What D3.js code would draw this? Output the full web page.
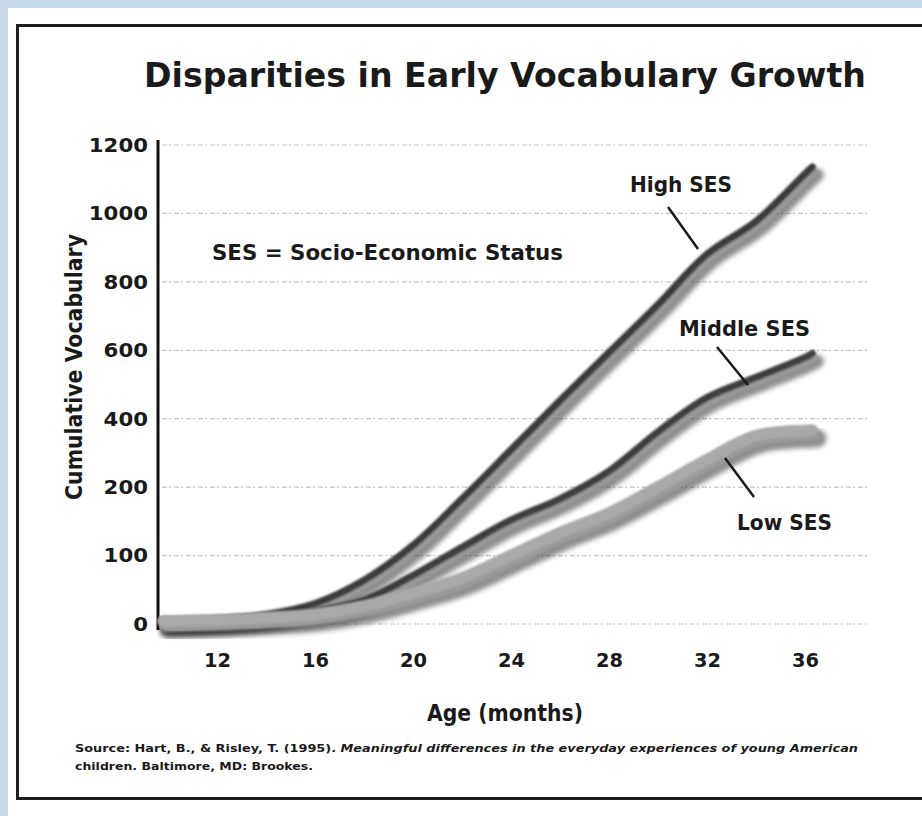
<!DOCTYPE html>
<html><head><meta charset="utf-8">
<script src="https://cdn.jsdelivr.net/npm/d3@7"></script>
<style>html,body{margin:0;padding:0;background:#c6d9ea;overflow:hidden} svg{display:block}</style>
</head><body><svg id="c" width="922" height="816"></svg>
<script>
// ---- data ----
const months    = [9.8, 12, 14, 16, 18, 20, 22, 24, 26, 28, 30, 32, 34, 36, 36.3];
const highSES   = [5, 7, 14, 30, 64, 115, 183, 309, 453, 594, 734, 881, 977, 1116, 1136];
const middleSES = [4, 6, 10, 19, 35, 71, 112, 152, 183, 247, 362, 462, 521, 579, 591];
const lowSES    = [4, 6, 9, 14, 26, 45, 67, 100, 133, 162, 200, 280, 350, 365, 366];
const yTicks = [0, 100, 200, 400, 600, 800, 1000, 1200];
const xTicks = [12, 16, 20, 24, 28, 32, 36];
const seriesNames = ["High SES", "Middle SES", "Low SES"];

const svg = d3.select("#c");
const FONT = "'DejaVu Sans', sans-serif";

// background panel and frame
svg.append("rect").attr("x", 8).attr("y", 8).attr("width", 914).attr("height", 808).attr("fill", "#fff");
svg.append("rect").attr("x", 17.5).attr("y", 25.5).attr("width", 930).attr("height", 773)
  .attr("fill", "none").attr("stroke", "#1e1e1e").attr("stroke-width", 3);

const defs = svg.append("defs");
defs.append("filter").attr("id", "blur").attr("x", "-5%").attr("y", "-5%").attr("width", "110%").attr("height", "110%")
  .append("feGaussianBlur").attr("stdDeviation", 2.4);
defs.append("filter").attr("id", "blur2").attr("x", "-5%").attr("y", "-5%").attr("width", "110%").attr("height", "110%")
  .append("feGaussianBlur").attr("stdDeviation", 0.8);

// scales (y axis has equally spaced ticks with uneven values, as in the original)
const yBottom = 624, yStep = 68.43;
const y = d3.scaleLinear().domain(yTicks).range(yTicks.map((d, i) => yBottom - i * yStep));
const x = d3.scaleLinear().domain([12, 36]).range([217, 805]);

// gridlines
svg.append("g").selectAll("line").data(yTicks).join("line")
  .attr("x1", 162).attr("x2", 870).attr("y1", d => y(d)).attr("y2", d => y(d))
  .attr("stroke", "#c4c4c4").attr("stroke-width", 1.2).attr("stroke-dasharray", "5,2,2,3");

// y axis
const yAxis = d3.axisLeft(y).tickValues(yTicks).tickFormat(d3.format("d")).tickSize(0).tickPadding(10);
const gy = svg.append("g").attr("transform", "translate(158,0)").call(yAxis);
gy.select(".domain").remove();
gy.selectAll("text").attr("font-family", FONT).attr("font-weight", "bold").attr("font-size", 20)
  .attr("fill", "#1a1a1a").attr("textLength", d => String(d).length * 14.8).attr("lengthAdjust", "spacingAndGlyphs");
svg.append("line").attr("x1", 158).attr("x2", 158).attr("y1", 140).attr("y2", 630)
  .attr("stroke", "#111").attr("stroke-width", 3);

// x axis labels
const xAxis = d3.axisBottom(x).tickValues(xTicks).tickSize(0).tickPadding(0);
const gx = svg.append("g").attr("transform", "translate(0,652)").call(xAxis);
gx.select(".domain").remove();
gx.selectAll("text").attr("font-family", FONT).attr("font-weight", "bold").attr("font-size", 20)
  .attr("fill", "#1a1a1a").attr("dy", "0.75em").attr("textLength", 27).attr("lengthAdjust", "spacingAndGlyphs");

// lines
const series = [
  { name: seriesNames[0], values: highSES, color: "#3a3a3a", width: 7 },
  { name: seriesNames[1], values: middleSES, color: "#3c3c3c", width: 7 },
  { name: seriesNames[2], values: lowSES, color: "#a9a9a9", width: 12 }
];
const line = d3.line().x((d, i) => x(months[i])).y(d => y(d)).curve(d3.curveCatmullRom.alpha(0.5));

const shadowG = svg.append("g");
series.forEach(s => {
  shadowG.append("path").attr("d", line(s.values)).attr("fill", "none")
    .attr("stroke", "#1c1c1c").attr("stroke-width", s.width + 6).attr("stroke-linecap", "round")
    .attr("transform", "translate(5,8)").attr("filter", "url(#blur)").attr("opacity", 0.5);
});
series.forEach(s => {
  shadowG.append("path").attr("d", line(s.values)).attr("fill", "none")
    .attr("stroke", "#999").attr("stroke-width", s.width - 1).attr("stroke-linecap", "round")
    .attr("transform", "translate(3,5)").attr("filter", "url(#blur2)");
});
series.forEach(s => {
  svg.append("path").attr("d", line(s.values)).attr("fill", "none")
    .attr("stroke", s.color).attr("stroke-width", s.width).attr("stroke-linecap", "round")
    .attr("filter", "url(#blur2)");
});

// titles & annotations
function txt(t, xx, yy, size, len, anchor, weight) {
  return svg.append("text").attr("x", xx).attr("y", yy).attr("font-family", FONT)
    .attr("font-size", size).attr("font-weight", weight || "bold").attr("fill", "#1a1a1a")
    .attr("text-anchor", anchor || "start").attr("textLength", len).attr("lengthAdjust", "spacingAndGlyphs").text(t);
}
txt("Disparities in Early Vocabulary Growth", 505, 87, 34, 722, "middle");
txt("SES = Socio-Economic Status", 212, 260, 21, 351);
txt(seriesNames[0], 630, 192, 21, 102);
txt(seriesNames[1], 679, 336, 21, 131);
txt(seriesNames[2], 737, 530, 21, 95);
txt("Age (months)", 505, 721, 23, 156, "middle", "600");
svg.append("text").attr("transform", "translate(82,367) rotate(-90)")
  .attr("font-family", FONT).attr("font-size", 23).attr("font-weight", "600").attr("fill", "#1a1a1a")
  .attr("text-anchor", "middle").attr("textLength", 266).attr("lengthAdjust", "spacingAndGlyphs")
  .text("Cumulative Vocabulary");

// leader lines
const leaders = [[668, 207, 698, 249], [717, 347, 748, 385], [725, 458, 754, 497]];
svg.append("g").selectAll("line").data(leaders).join("line")
  .attr("x1", d => d[0]).attr("y1", d => d[1]).attr("x2", d => d[2]).attr("y2", d => d[3])
  .attr("stroke", "#1a1a1a").attr("stroke-width", 2.5);

// source
const s1 = svg.append("text").attr("x", 75).attr("y", 752).attr("font-family", FONT)
  .attr("font-size", 11).attr("font-weight", "bold").attr("fill", "#1a1a1a")
  .attr("textLength", 783).attr("lengthAdjust", "spacingAndGlyphs");
s1.append("tspan").text("Source: Hart, B., & Risley, T. (1995). ");
s1.append("tspan").attr("font-style", "italic").text("Meaningful differences in the everyday experiences of young American");
svg.append("text").attr("x", 75).attr("y", 770).attr("font-family", FONT)
  .attr("font-size", 11).attr("font-weight", "bold").attr("fill", "#1a1a1a")
  .attr("textLength", 238).attr("lengthAdjust", "spacingAndGlyphs")
  .text("children. Baltimore, MD: Brookes.");
</script></body></html>
